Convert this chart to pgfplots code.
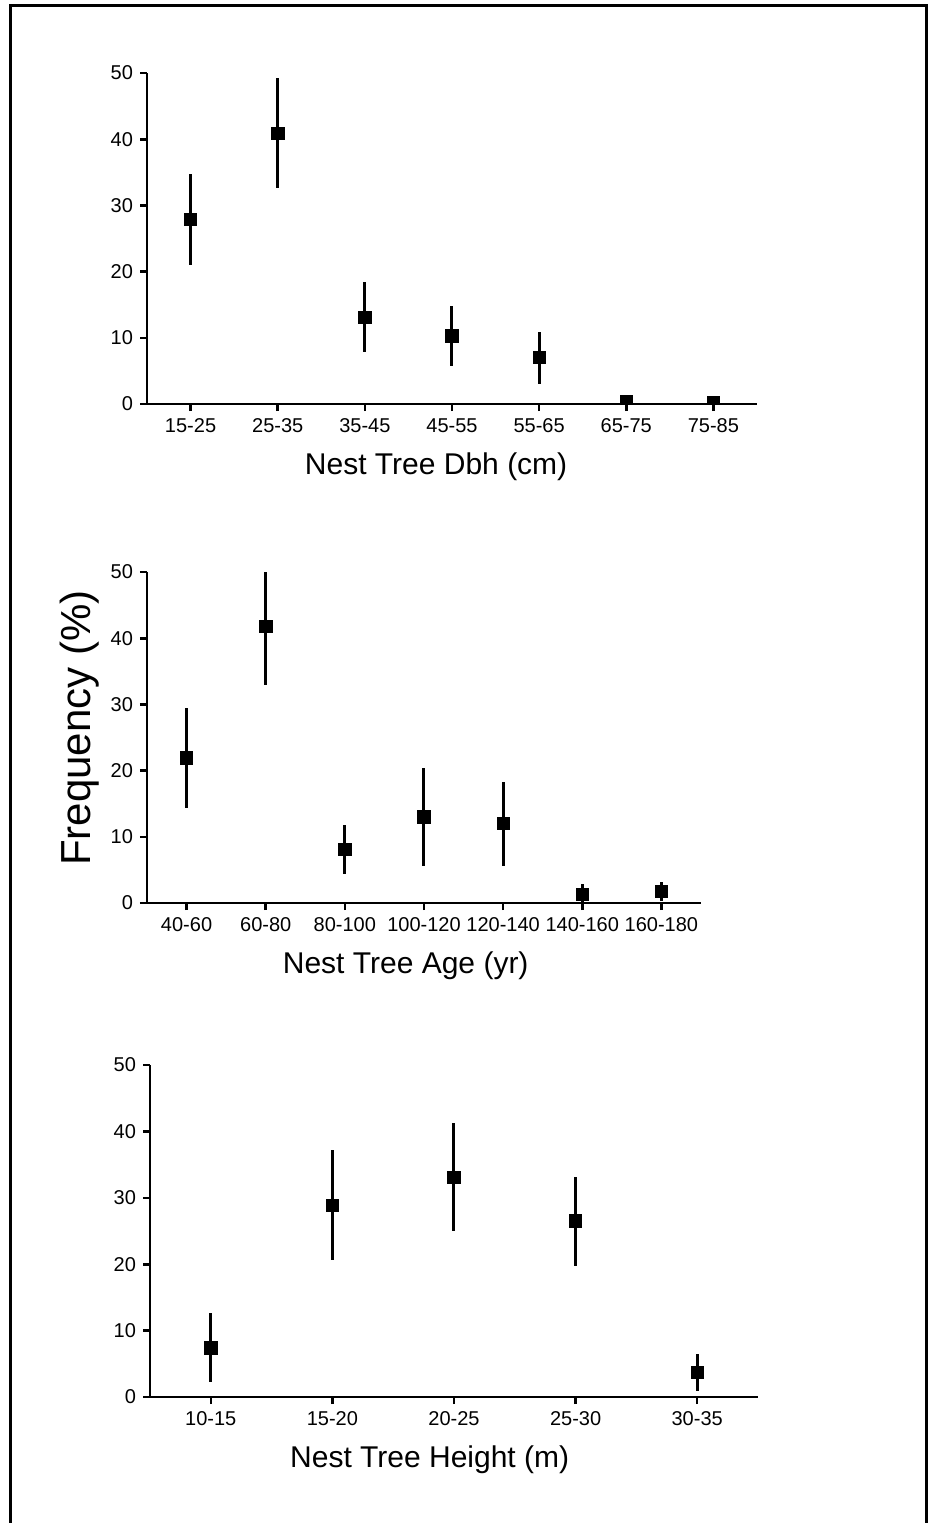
\documentclass[border=0pt]{standalone}
\usepackage{fontspec}
\setmainfont{Liberation Sans}
\usepackage{pgfplots}
\pgfplotsset{compat=1.18}

% shared look of the three panels
\pgfplotsset{
  nestpanel/.style={
    scale only axis,
    anchor=south west,
    axis lines=left,
    axis line style={-, line width=1.3pt, black},
    ymin=0, ymax=50,
    ytick={0,10,...,50},
    tick align=outside,
    major tick length=3.5pt,
    tick style={line width=1.3pt, black},
    tick label style={font=\fontsize{10}{12}\selectfont},
    xticklabel style={text height=7.2pt, text depth=0pt},
    /pgf/number format/assume math mode=true,
    xlabel style={font=\fontsize{15}{18}\selectfont, anchor=center, yshift=-31.5pt},
    clip=true,
    clip marker paths=true,
  },
  nestmarks/.style={
    only marks, black, mark=square*, mark size=3.1pt,
    mark options={solid, fill=black, draw=black},
    error bars/.cd,
      y dir=both, y explicit,
      error mark=none,
      error bar style={line width=1.5pt, black},
  },
}

\begin{document}
\begin{tikzpicture}
\path[use as bounding box] (0,0) rectangle (467pt,-761.5pt);
\draw[line width=1.5pt] (5.2pt,-775pt) -- (5.2pt,-2.7pt) -- (463.2pt,-2.7pt) -- (463.2pt,-775pt);

\begin{axis}[nestpanel,
    at={(73.5pt,-202pt)}, width=305pt, height=165.5pt,
    xmin=-0.5, xmax=6.5, xtick={0,...,6},
    xticklabels={15-25,25-35,35-45,45-55,55-65,65-75,75-85},
    xlabel={Nest Tree Dbh (cm)},
    xlabel style={at={(axis description cs:0.474,0)}},
]
\addplot[nestmarks] coordinates {
    (0,27.9) +- (0,6.9)
    (1,40.9) +- (0,8.3)
    (2,13.1) +- (0,5.3)
    (3,10.3) +- (0,4.5)
    (4,7.0)  +- (0,3.95)
    (5,0.4)  +- (0,0)
    (6,0.15) +- (0,0)
};
\end{axis}

\begin{axis}[nestpanel,
    at={(73.5pt,-451.5pt)}, width=277pt, height=165.5pt,
    xmin=-0.5, xmax=6.5, xtick={0,...,6},
    xticklabels={40-60,60-80,80-100,100-120,120-140,140-160,160-180},
    xlabel={Nest Tree Age (yr)},
    xlabel style={at={(axis description cs:0.467,0)}},
]
\addplot[nestmarks] coordinates {
    (0,21.9) +- (0,7.6)
    (1,41.8) +- (0,8.8)
    (2,8.1)  +- (0,3.75)
    (3,13.0) +- (0,7.4)
    (4,12.0) +- (0,6.35)
    (5,1.3)  +- (0,1.5)
    (6,1.8)  +- (0,1.45)
};
\end{axis}

\begin{axis}[nestpanel,
    at={(75pt,-698.5pt)}, width=304pt, height=166pt,
    xmin=-0.5, xmax=4.5, xtick={0,...,4},
    xticklabels={10-15,15-20,20-25,25-30,30-35},
    xlabel={Nest Tree Height (m)},
    xlabel style={at={(axis description cs:0.46,0)}},
]
\addplot[nestmarks] coordinates {
    (0,7.4)  +- (0,5.2)
    (1,28.9) +- (0,8.3)
    (2,33.1) +- (0,8.1)
    (3,26.5) +- (0,6.7)
    (4,3.7)  +- (0,2.8)
};
\end{axis}

\node[rotate=90, font=\fontsize{21}{25}\selectfont] at (40pt,-364pt) {Frequency (\%)};
\end{tikzpicture}
\end{document}
